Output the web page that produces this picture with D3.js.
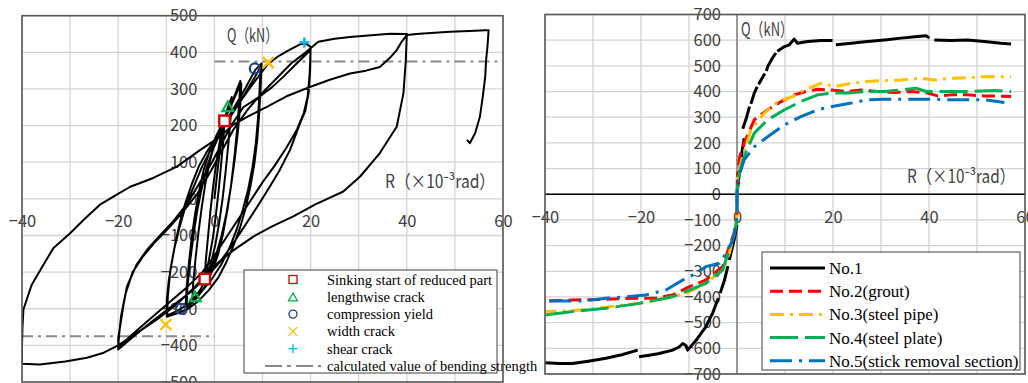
<!DOCTYPE html>
<html><head><meta charset="utf-8">
<script src="https://cdn.jsdelivr.net/npm/d3@7"></script>
<style>body{margin:0;background:#fff}svg{display:block}</style>
</head><body>
<svg id="c" width="1028" height="383"></svg>
<script>
// ---------- DATA ----------
const gridR = [-40,-30,-20,-10,0,10,20,30,40,50,60];
const tickR = [-40,-20,0,20,40,60];
const leftTickQ = [500,400,300,200,100,0,-100,-200,-300,-400,-500];
const rightTickQ = [700,600,500,400,300,200,100,0,-100,-200,-300,-400,-500,-600,-700];
const bendingStrength = [375, -375];
const qTitle = 'Q（kN）';
const rTitleText = 'R（×10⁻³rad）';

// hysteresis loop (R x10^-3 rad, Q kN)
const hysteresis = [
[0,0],[0.5,60],[1.0,115],[1.5,165],[2.1,213],
[1.9,165],[1.4,95],[0.9,25],[0.3,-45],[-0.3,-105],[-0.9,-150],[-1.5,-190],[-2.0,-219],
[-1.8,-170],[-1.3,-100],[-0.8,-30],[-0.2,40],[0.4,100],[1.1,155],[1.9,205],[2.8,250],[3.6,278],
[3.4,225],[2.9,150],[2.3,70],[1.7,0],[1.0,-65],[0.2,-125],[-0.7,-175],[-1.8,-220],[-3.0,-250],[-4.0,-269],[-4.6,-280],
[-4.4,-230],[-3.9,-160],[-3.3,-90],[-2.6,-20],[-1.9,40],[-1.0,100],[0,150],[1.2,195],[2.6,235],[4.0,275],[5.4,322],
[5.2,270],[4.8,200],[4.2,120],[3.5,40],[2.7,-30],[1.8,-95],[0.8,-150],[-0.4,-195],[-2.0,-240],[-3.6,-270],[-5.2,-290],[-6.0,-298],
[-5.8,-245],[-5.3,-175],[-4.7,-105],[-4.0,-40],[-3.2,20],[-2.2,80],[-1.0,130],[0.5,175],[2.0,215],[3.5,255],[4.8,295],[5.6,315],
[5.4,260],[4.9,185],[4.2,105],[3.4,30],[2.5,-40],[1.5,-100],[0.3,-155],[-1.2,-205],[-3.0,-250],[-4.8,-280],[-5.8,-295],
[-5.6,-240],[-5.0,-165],[-4.3,-95],[-3.6,-35],[-2.7,25],[-1.6,85],[-0.3,135],[1.2,180],[3.0,225],[4.8,265],[6.4,301],[7.8,335],[8.5,352],[9.8,370],
[9.6,300],[9.3,230],[8.9,160],[8.3,95],[7.5,35],[6.5,-25],[5.3,-80],[3.9,-130],[2.4,-175],[0.8,-215],[-1.2,-250],[-3.4,-280],[-5.5,-300],[-7.6,-312],[-9.9,-322],
[-9.9,-275],[-9.5,-225],[-8.9,-175],[-8.1,-120],[-7.1,-60],[-6.0,-10],[-4.7,40],[-3.2,90],[-1.5,130],[0.5,170],[2.5,210],[4.5,250],[6.5,290],[8.3,330],[9.6,360],
[9.4,300],[9.1,225],[8.6,150],[7.9,85],[7.0,25],[5.9,-30],[4.6,-85],[3.1,-135],[1.4,-180],[-0.6,-220],[-2.8,-255],[-5.2,-285],[-7.6,-305],[-9.8,-318],
[-9.7,-270],[-9.2,-200],[-8.4,-140],[-7.3,-80],[-6.0,-20],[-4.4,30],[-2.5,90],[-0.5,140],[1.5,185],[3.5,228],[5.5,268],[7.5,305],[9.5,340],[11.2,370],[13.6,392],[15.8,408],[17.8,422],[19.0,424],[20.0,415],
[19.9,350],[19.6,290],[18.9,240],[17.8,206],[15.7,133],[13.6,79],[11.0,22],[8.5,-30],[6.0,-80],[3.5,-130],[1.0,-175],[-1.6,-213],[-5.0,-255],[-9.0,-295],[-13.0,-335],[-16.5,-372],[-20.0,-411],
[-20.0,-380],[-19.6,-348],[-18.9,-290],[-18.2,-240],[-16.2,-180],[-14.0,-139],[-11.3,-100],[-8.5,-60],[-5.5,-10],[-3.0,45],[-0.5,100],[1.5,150],[3.5,200],[6.0,250],[9.5,280],[12.0,305],[14.3,333],[17.0,368],[19.5,400],[20.0,410],
[19.8,340],[19.4,280],[18.6,235],[17.2,190],[15.0,140],[12.5,90],[10.0,45],[7.5,-5],[5.0,-55],[2.5,-105],[0,-155],[-2.5,-200],[-6.0,-245],[-10,-290],[-14,-335],[-17.5,-375],[-20,-405],
[-19.8,-370],[-19.4,-320],[-18.5,-260],[-17.0,-200],[-15,-160],[-12.5,-120],[-9.5,-80],[-6.5,-35],[-3.5,15],[-1,70],[1.5,130],[4,190],[7,245],[10,290],[13,330],[16,370],[19,400],[21.6,429],[25,437],[28.2,442],[32,446],[36.5,451],[40,450],
[39.8,379],[39.3,288],[37.9,197],[34.4,125],[30.3,61],[26.8,20],[21.0,-15],[16.4,-48],[12.0,-75],[8.1,-103],[4.0,-140],[-0.2,-184],[-4.0,-240],[-8.0,-290],[-12.0,-330],[-16.0,-365],[-20.0,-400],[-23,-420],[-26.5,-434],[-31,-444],[-36.3,-452],[-40,-450],
[-40,-400],[-39.9,-350],[-39.7,-302],[-38,-235],[-36,-190],[-33.5,-135],[-30,-94],[-27,-55],[-23.8,-16],[-21,6],[-17.5,33],[-12.7,57],[-7.8,88],[-3,133],[1.2,170],[3.9,202],[7.0,225],[10.9,251],[15,280],[20,306],[24,325],[28.2,342],[31.5,350],[34.4,360],[36.5,385],[37.9,406],[39,430],[40,447],[42,450],[45,453],[49,456],[53,458],[56.3,460],[57,460],[56.8,420],[56.5,380],[56.3,333],[55.8,280],[55.2,224],[54.2,179],[53.1,152],[52.5,161]
];

// event markers on the hysteresis loop
const sinkingStart = [[2.1,213],[-2.0,-219]];
const lengthwiseCrack = [[2.8,250],[-4.0,-269]];
const compressionYield = [[8.4,356],[-7.0,-300]];
const widthCrack = [[11.2,372],[-10.1,-343]];
const shearCrack = [[18.7,427]];

const leftLegend = ["Sinking start of reduced part","lengthwise crack","compression yield","width crack","shear crack","calculated value of bending strength"];

// skeleton curves (right chart); null = gap in plotted line
const no1 = [[-40,-656],[-37,-659],[-34.3,-659],[-31,-650],[-27.3,-639],[-24,-625],[-20.7,-607],null,
[-20.4,-633],[-18,-626],[-16.2,-620],[-13.4,-607],[-12,-594],[-11.3,-581],[-10.6,-590],[-10.3,-607],[-9.5,-590],[-8.5,-568],[-6.5,-516],[-5.1,-464],[-3.9,-405],null,
[-3.5,-385],[-2.6,-334],[-1.9,-280],null,[-1.6,-256],[-0.6,-178],[0,-120],null,
[0,0],[0.5,85],[1.0,160],[1.5,218],null,[1.2,255],[2.0,300],[2.6,341],null,[2.9,352],[3.6,394],[4.2,418],null,[4.5,428],[5,445],[5.8,470],null,[6.1,480],[6.4,497],[7.2,525],[8.1,550],null,
[8.4,557],[9.9,575],[10.9,582],[11.9,604],[12.6,588],[14.7,595],[17.5,599],[19.9,599],null,
[20.6,582],[23.8,588],[27.2,595],[30.7,601],[34.2,608],[37.6,614],[39.4,617],[40.1,608],null,
[41.1,601],[44.6,599],[48,601],[51.5,595],[55,588],[57.1,585]];
const no2 = [[-39.1,-415],[-34.3,-412],[-27.3,-409],[-21.8,-405],[-16.9,-405],[-13.4,-392],[-9.9,-360],[-6.5,-334],[-3,-282],[-1.6,-204],[-0.6,-150],[0,-80],[0,0],[0.1,82],[0.6,150],[1.5,199],[3.6,290],[6.4,329],[9.2,361],[11.9,387],[14.4,400],[16.8,409],[19.6,406],[23,400],[25.8,406],[29.3,400],[32.8,396],[36.3,400],[39.7,394],[41.8,383],[44.6,387],[48,387],[51.5,383],[57.1,381]];
const no3 = [[-40.5,-457],[-34.3,-454],[-27.3,-440],[-20.4,-425],[-14.8,-405],[-10.6,-386],[-6.5,-347],[-3,-295],[-1.6,-230],[-0.5,-150],[0,-80],[0,0],[0.1,69],[1.2,147],[2.9,251],[5.7,316],[8.5,361],[11.6,380],[14,406],[17.5,432],[20.3,419],[23.8,432],[27.2,439],[30.7,443],[34.2,445],[38.3,452],[41.1,445],[44.6,452],[48,454],[51.5,458],[57.1,458]];
const no4 = [[-39.8,-470],[-34.3,-457],[-27.3,-444],[-20.4,-425],[-13.4,-399],[-9.9,-373],[-6.5,-347],[-3,-295],[-1.6,-217],[-0.5,-150],[0,-100],[0,0],[0.1,56],[1.5,147],[3.6,238],[6.4,290],[9.9,329],[13.3,361],[16.8,387],[19.6,394],[23,394],[27.2,400],[30.7,400],[34.2,406],[37.3,413],[39.4,400],[41.8,400],[48,400],[53.6,404],[57.1,400]];
const no5 = [[-39.1,-416],[-32.2,-416],[-27.3,-405],[-23.1,-399],[-19,-392],[-14.8,-373],[-11.3,-334],[-8.5,-308],[-6.5,-282],[-3.7,-269],[-2.3,-230],[-0.9,-178],[-0.2,-126],[0,-60],[0,0],[0.1,30],[0.4,69],[1.5,134],[3.6,185],[6.4,224],[9.9,270],[13.3,302],[16.8,329],[19.6,341],[23.8,355],[27.2,368],[30.7,370],[34.2,370],[37.6,370],[41.1,370],[44.6,368],[48,368],[51.5,368],[55.7,357]];
const rightLegend = ["No.1","No.2(grout)","No.3(steel pipe)","No.4(steel plate)","No.5(stick removal section)"];

// ---------- DRAW ----------
const svg = d3.select('#c');
svg.append('rect').attr('width',1028).attr('height',383).attr('fill','#fff');
const NUMFONT = '"Noto Sans CJK JP","Noto Sans",sans-serif';
const SERIF = '"Liberation Serif","Times New Roman",serif';
const GRID = '#d4d4d4', BORDER = '#595959', TXT = '#404040';

function drawFrame(x, y, gridQ, id){
  const [x0,x1] = x.range(), [y0,y1] = y.range();
  const g = svg.append('g');
  g.selectAll('line.v').data(gridR).join('line')
    .attr('x1',d=>x(d)).attr('x2',d=>x(d)).attr('y1',y0).attr('y2',y1)
    .attr('stroke',GRID).attr('stroke-width',1.3);
  g.selectAll('line.h').data(gridQ).join('line').attr('class','h')
    .attr('y1',d=>y(d)).attr('y2',d=>y(d)).attr('x1',x0).attr('x2',x1)
    .attr('stroke',GRID).attr('stroke-width',1.3);
  svg.append('defs').append('clipPath').attr('id',id).append('rect')
    .attr('x',x0).attr('y',y1).attr('width',x1-x0).attr('height',y0-y1);
  return g;
}
function drawBorder(x,y){
  const [x0,x1] = x.range(), [y0,y1] = y.range();
  svg.append('rect').attr('x',x0).attr('y',y1).attr('width',x1-x0).attr('height',y0-y1)
    .attr('fill','none').attr('stroke',BORDER).attr('stroke-width',1.6);
}
function drawAxes(x,y,ticksQ,padX,padY){
  const ay = svg.append('g').attr('transform',`translate(${x(0)},0)`)
    .call(d3.axisLeft(y).tickValues(ticksQ).tickSize(0).tickPadding(padY));
  const ax = svg.append('g').attr('transform',`translate(0,${y(0)})`)
    .call(d3.axisBottom(x).tickValues(tickR).tickSize(0).tickPadding(padX));
  [ax,ay].forEach(a=>{ a.select('.domain').remove();
    a.selectAll('text').attr('font-family',NUMFONT).attr('font-size',16.5).attr('fill',TXT); });
}
function axisTitle(x0,y0,len,txt){
  svg.append('text').attr('x',x0).attr('y',y0).attr('font-family',NUMFONT).attr('font-size',18)
    .attr('fill',TXT).attr('textLength',len).attr('lengthAdjust','spacingAndGlyphs').text(txt);
}

// LEFT CHART
const xL = d3.scaleLinear([-40,60],[22,503]);
const yL = d3.scaleLinear([-500,500],[382,15.7]);
drawFrame(xL,yL,leftTickQ,'clipL');
drawAxes(xL,yL,leftTickQ,16,17);
const refG = svg.append('g').attr('clip-path','url(#clipL)');
refG.append('line').attr('x1',xL(0)).attr('x2',xL(60)).attr('y1',yL(bendingStrength[0])).attr('y2',yL(bendingStrength[0]))
  .attr('stroke','#888').attr('stroke-width',2).attr('stroke-dasharray','11,5,3,5');
refG.append('line').attr('x1',xL(-40)).attr('x2',xL(0)).attr('y1',yL(bendingStrength[1])).attr('y2',yL(bendingStrength[1]))
  .attr('stroke','#888').attr('stroke-width',2).attr('stroke-dasharray','11,5,3,5');
const lineL = d3.line().x(d=>xL(d[0])).y(d=>yL(d[1]));
svg.append('path').attr('clip-path','url(#clipL)').attr('d',lineL(hysteresis))
  .attr('fill','none').attr('stroke','#000').attr('stroke-width',2).attr('stroke-linejoin','round');

axisTitle(227,42,51,qTitle);
axisTitle(385,188,110,rTitleText);

// markers
function sq(g,p,s,col,w){ g.append('rect').attr('x',p[0]-s/2).attr('y',p[1]-s/2).attr('width',s).attr('height',s)
  .attr('fill','#fff').attr('stroke',col).attr('stroke-width',w); }
function tri(g,p,s,col,w){ const h=s*0.87; g.append('path')
  .attr('d',`M${p[0]},${p[1]-h*0.6}L${p[0]+s/2},${p[1]+h*0.4}L${p[0]-s/2},${p[1]+h*0.4}Z`)
  .attr('fill','none').attr('stroke',col).attr('stroke-width',w); }
function circ(g,p,s,col,w){ g.append('circle').attr('cx',p[0]).attr('cy',p[1]).attr('r',s/2)
  .attr('fill','none').attr('stroke',col).attr('stroke-width',w); }
function cross(g,p,s,col,w){ const r=s/2; g.append('path')
  .attr('d',`M${p[0]-r},${p[1]-r}L${p[0]+r},${p[1]+r}M${p[0]-r},${p[1]+r}L${p[0]+r},${p[1]-r}`)
  .attr('stroke',col).attr('stroke-width',w); }
function plus(g,p,s,col,w){ const r=s/2; g.append('path')
  .attr('d',`M${p[0]-r},${p[1]}L${p[0]+r},${p[1]}M${p[0]},${p[1]-r}L${p[0]},${p[1]+r}`)
  .attr('stroke',col).attr('stroke-width',w); }
const C = {sq:'#d00000',tri:'#00b050',circ:'#203f80',x:'#ffc000',plus:'#00b0f0'};
const mg = svg.append('g');
const P = d=>[xL(d[0]),yL(d[1])];
sinkingStart.forEach(d=>sq(mg,P(d),10.5,C.sq,2.4));
lengthwiseCrack.forEach(d=>tri(mg,P(d),11,C.tri,2.2));
compressionYield.forEach(d=>circ(mg,P(d),10,C.circ,2.2));
widthCrack.forEach(d=>cross(mg,P(d),11,C.x,2.4));
shearCrack.forEach(d=>plus(mg,P(d),10,C.plus,2.4));

// left legend
svg.append('rect').attr('x',244).attr('y',270).attr('width',253).attr('height',103)
  .attr('fill','#fff').attr('stroke','#404040').attr('stroke-width',1);
const lgL = svg.append('g');
const rowY = i => 279.5 + i*17.3;
sq(lgL,[293,rowY(0)],8,C.sq,1.3);
tri(lgL,[293,rowY(1)+1],9,C.tri,1.3);
circ(lgL,[293,rowY(2)],8,C.circ,1.3);
cross(lgL,[293,rowY(3)],9,C.x,1.3);
plus(lgL,[293,rowY(4)],9,C.plus,1.3);
lgL.append('line').attr('x1',265).attr('x2',321).attr('y1',rowY(5)).attr('y2',rowY(5))
  .attr('stroke','#888').attr('stroke-width',2).attr('stroke-dasharray','17,5,4,5');
lgL.selectAll('text').data(leftLegend).join('text').attr('x',327).attr('y',(d,i)=>rowY(i)+5)
  .attr('font-family',SERIF).attr('font-size',14.5).attr('fill','#000').text(d=>d);

// RIGHT CHART
const xR = d3.scaleLinear([-40,60],[545,1025]);
const yR = d3.scaleLinear([-700,700],[374,14.5]);
drawFrame(xR,yR,rightTickQ,'clipR');
drawAxes(xR,yR,rightTickQ,17,16);
svg.append('line').attr('x1',xR(0)).attr('x2',xR(0)).attr('y1',yR(-700)).attr('y2',yR(700))
  .attr('stroke','#7f7f7f').attr('stroke-width',1.5);
svg.append('line').attr('x1',xR(-40)).attr('x2',xR(60)).attr('y1',yR(0)).attr('y2',yR(0))
  .attr('stroke','#000').attr('stroke-width',1.5);
const series = [
  {d:no1,c:'#000000',dash:null},
  {d:no2,c:'#ff0000',dash:'13,6'},
  {d:no3,c:'#ffc000',dash:'14,6,3,6'},
  {d:no4,c:'#00b050',dash:'28,7'},
  {d:no5,c:'#0070c0',dash:'22,7,3,7'}
];
const lineR = d3.line().defined(d=>d!==null).x(d=>xR(d[0])).y(d=>yR(d[1]));
series.forEach(s=>{
  svg.append('path').attr('clip-path','url(#clipR)').attr('d',lineR(s.d)).attr('fill','none')
    .attr('stroke',s.c).attr('stroke-width',3).attr('stroke-dasharray',s.dash)
    .attr('stroke-linejoin','round');
});
drawBorder(xL,yL);
drawBorder(xR,yR);
axisTitle(741,36,52,qTitle);
axisTitle(907,183,108,rTitleText);

// right legend
svg.append('rect').attr('x',762).attr('y',252).attr('width',258).attr('height',118)
  .attr('fill','#fff').attr('stroke','#404040').attr('stroke-width',1);
const rowR = i => 268 + i*23.2;
series.forEach((s,i)=>{
  svg.append('line').attr('x1',770).attr('x2',825).attr('y1',rowR(i)).attr('y2',rowR(i))
    .attr('stroke',s.c).attr('stroke-width',3).attr('stroke-dasharray',s.dash);
});
svg.append('g').selectAll('text').data(rightLegend).join('text').attr('x',829).attr('y',(d,i)=>rowR(i)+6)
  .attr('font-family',SERIF).attr('font-size',17).attr('fill','#000').text(d=>d);
</script>
</body></html>
